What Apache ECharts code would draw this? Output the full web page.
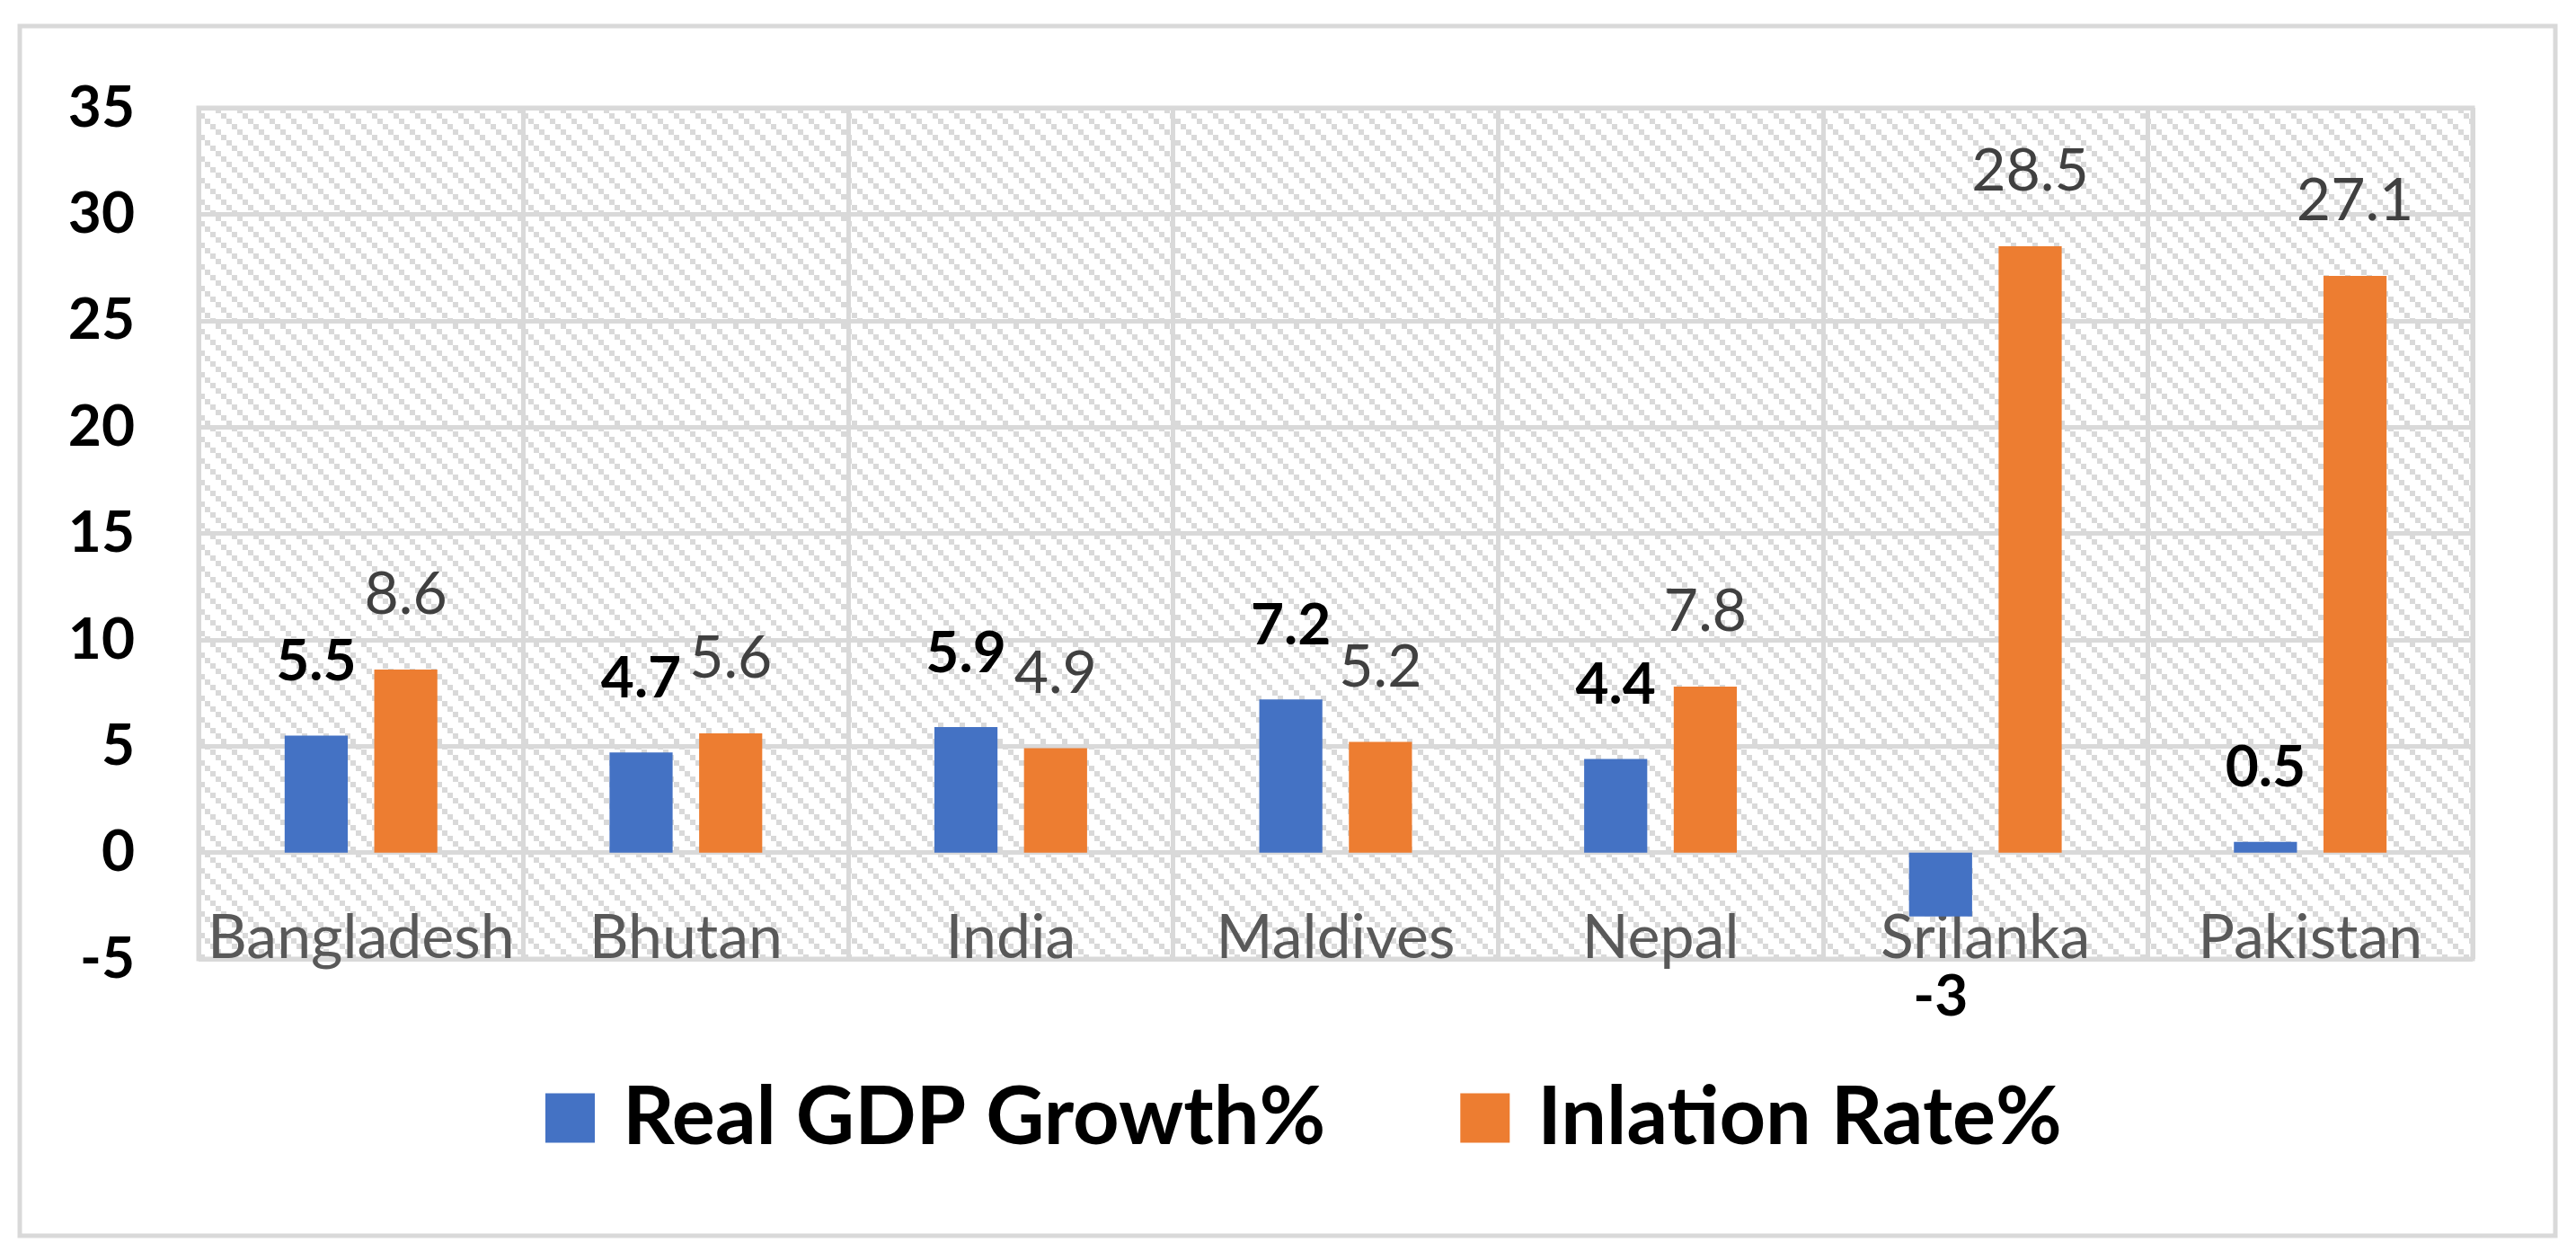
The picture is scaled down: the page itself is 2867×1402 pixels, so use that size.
<!DOCTYPE html>
<html>
<head>
<meta charset="utf-8">
<script src="https://cdn.jsdelivr.net/npm/echarts@6/dist/echarts.min.js"></script>
<style>
html,body{margin:0;padding:0;background:#fff;}
#chart{width:2867px;height:1402px;}
</style>
</head>
<body>
<div id="chart"></div>
<script>
var categories = ['Bangladesh', 'Bhutan', 'India', 'Maldives', 'Nepal', 'Srilanka', 'Pakistan'];
var gdpGrowth = [5.5, 4.7, 5.9, 7.2, 4.4, -3, 0.5];
var inflationRate = [8.6, 5.6, 4.9, 5.2, 7.8, 28.5, 27.1];
var seriesNames = ['Real GDP Growth%', 'Inlation Rate%'];

// hatch pattern tile for plot background
var tile = document.createElement('canvas');
tile.width = 24; tile.height = 24;
var ctx = tile.getContext('2d');
ctx.fillStyle = '#d9d9d9';
for (var i = 0; i < 4; i++) { ctx.fillRect(i * 6, i * 6, 6, 6); }

function buildData(vals, dist) {
  return vals.map(function (v) {
    return v < 0 ? { value: v, label: { position: 'bottom', distance: dist } } : { value: v };
  });
}

var chart = echarts.init(document.getElementById('chart'), null, { renderer: 'canvas' });
chart.setOption({
  backgroundColor: '#ffffff',
  animation: false,
  graphic: [{
    type: 'rect',
    shape: { x: 22, y: 29, width: 2822, height: 1346 },
    style: { fill: 'none', stroke: '#d9d9d9', lineWidth: 5 },
    z: -10
  }],
  grid: {
    left: 221, top: 120, right: 115, bottom: 335,
    show: true,
    backgroundColor: { image: tile, repeat: 'repeat' },
    borderColor: '#d9d9d9', borderWidth: 5
  },
  legend: {
    data: seriesNames,
    left: 602, top: 1194,
    icon: 'rect', itemWidth: 55, itemHeight: 55, itemGap: 150,
    textStyle: { fontFamily: 'Lato', fontWeight: 'bold', fontSize: 90, color: '#000', padding: [0, 0, 0, 26] }
  },
  xAxis: {
    type: 'category',
    data: categories,
    position: 'bottom',
    axisLine: { show: false },
    axisTick: { show: false },
    splitLine: { show: true, interval: 0, lineStyle: { color: '#d9d9d9', width: 5 } },
    axisLabel: { inside: true, margin: -11, interval: 0, color: '#595959', fontFamily: 'Lato', fontSize: 68 }
  },
  yAxis: {
    type: 'value', min: -5, max: 35, interval: 5,
    axisLine: { show: false }, axisTick: { show: false },
    splitLine: { lineStyle: { color: '#d9d9d9', width: 5 } },
    axisLabel: { margin: 71, color: '#000', fontFamily: 'Lato', fontWeight: 'bold', fontSize: 64 }
  },
  series: [{
    name: seriesNames[0], type: 'bar',
    data: buildData(gdpGrowth, 58),
    itemStyle: { color: '#4472c4' },
    barGap: '42%', barCategoryGap: '53%',
    label: { show: true, position: 'top', distance: 50, color: '#000', fontFamily: 'Lato', fontWeight: 'bold', fontSize: 64 }
  }, {
    name: seriesNames[1], type: 'bar',
    data: buildData(inflationRate, 58),
    itemStyle: { color: '#ed7d31' },
    barGap: '42%', barCategoryGap: '53%',
    label: { show: true, position: 'top', distance: 50, color: '#404040', fontFamily: 'Lato', fontSize: 66 }
  }]
});
</script>
</body>
</html>
